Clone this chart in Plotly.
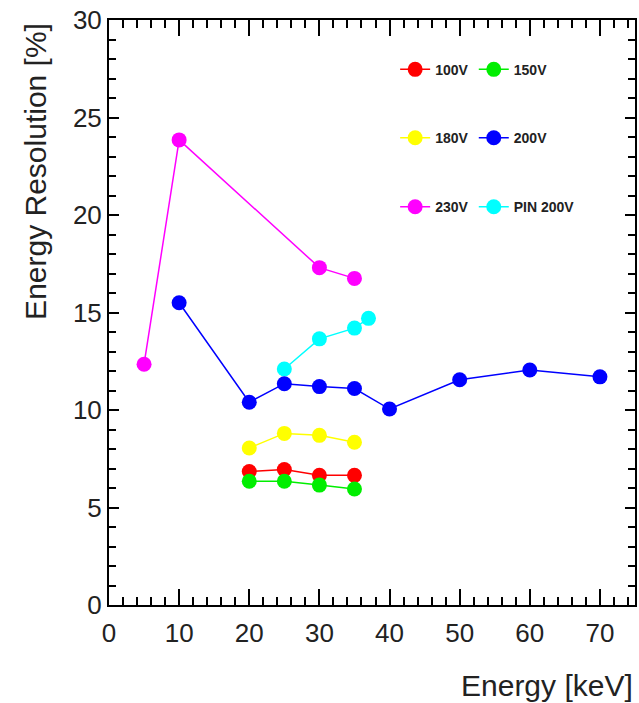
import plotly.graph_objects as go

# ---- data ----
x_100v = [20, 25, 30, 35]
y_100v = [6.85, 6.95, 6.65, 6.65]

x_150v = [20, 25, 30, 35]
y_150v = [6.35, 6.35, 6.15, 5.95]

x_180v = [20, 25, 30, 35]
y_180v = [8.05, 8.8, 8.7, 8.35]

x_200v = [10, 20, 25, 30, 35, 40, 50, 60, 70]
y_200v = [15.5, 10.4, 11.35, 11.2, 11.1, 10.05, 11.55, 12.05, 11.7]

x_230v = [5, 10, 30, 35]
y_230v = [12.35, 23.85, 17.3, 16.75]

x_pin = [25, 30, 35, 37]
y_pin = [12.1, 13.65, 14.2, 14.7]

x_ticks = [0, 10, 20, 30, 40, 50, 60, 70]
y_ticks = [0, 5, 10, 15, 20, 25, 30]

FONT = "Liberation Sans, Arial, sans-serif"

COL1_X = 0.544
COL2_X = 0.6935
ROW_Y = [0.915, 0.798, 0.680]

series = [
    # name, x, y, color, legend id, (col x, row y)
    ("100V", x_100v, y_100v, "#ff0000", "legend", (COL1_X, ROW_Y[0])),
    ("150V", x_150v, y_150v, "#00ee00", "legend2", (COL2_X, ROW_Y[0])),
    ("180V", x_180v, y_180v, "#ffff00", "legend3", (COL1_X, ROW_Y[1])),
    ("PIN 200V", x_pin, y_pin, "#00ffff", "legend6", (COL2_X, ROW_Y[2])),
    ("200V", x_200v, y_200v, "#0000ff", "legend4", (COL2_X, ROW_Y[1])),
    ("230V", x_230v, y_230v, "#ff00ff", "legend5", (COL1_X, ROW_Y[2])),
]

fig = go.Figure()
leg_layout = {}
for name, xs, ys, col, leg, (lx, ly) in series:
    fig.add_trace(go.Scatter(
        x=xs, y=ys, name=name, mode="lines+markers",
        line=dict(color=col, width=1.5),
        marker=dict(color=col, size=15, line=dict(width=0)),
        legend=leg,
    ))
    leg_layout[leg] = dict(
        x=lx, y=ly, xanchor="left", yanchor="middle",
        font=dict(family=FONT, size=14, color="#222", weight="bold"),
        bgcolor="rgba(0,0,0,0)", itemwidth=30,
    )

axis_common = dict(
    showline=True, linecolor="black", linewidth=2, mirror="allticks",
    ticks="inside", tickcolor="black", tickwidth=1.5,
    showgrid=False, zeroline=False,
    tickfont=dict(family=FONT, size=26, color="#222"),
)

fig.update_xaxes(
    range=[0, 75], tickvals=x_ticks, ticklen=16,
    minor=dict(dtick=2, ticklen=8, ticks="inside", tickcolor="black", tickwidth=1.5, showgrid=False),
    ticklabelstandoff=4,
    **axis_common,
)
fig.update_yaxes(
    range=[0, 30], tickvals=y_ticks, ticklen=10,
    minor=dict(dtick=1, ticklen=7, ticks="inside", tickcolor="black", tickwidth=1.5, showgrid=False),
    ticklabelstandoff=0,
    **axis_common,
)

fig.update_layout(**leg_layout)

fig.add_annotation(
    text="Energy Resolution [%]", xref="paper", yref="paper",
    x=-0.140, y=0.741, xanchor="center", yanchor="middle",
    textangle=-90, showarrow=False,
    font=dict(family=FONT, size=30, color="#222"),
)
fig.add_annotation(
    text="Energy [keV]", xref="paper", yref="paper",
    x=1.0, y=-0.138, xanchor="right", yanchor="middle",
    showarrow=False,
    font=dict(family=FONT, size=30, color="#222"),
)

fig.update_layout(
    width=639, height=703,
    margin=dict(l=109, r=2, t=20, b=98),
    paper_bgcolor="white", plot_bgcolor="white",
    showlegend=True,
)

fig.write_html("out.html", config={"displayModeBar": False},
               post_script="document.body.style.margin='0';")
